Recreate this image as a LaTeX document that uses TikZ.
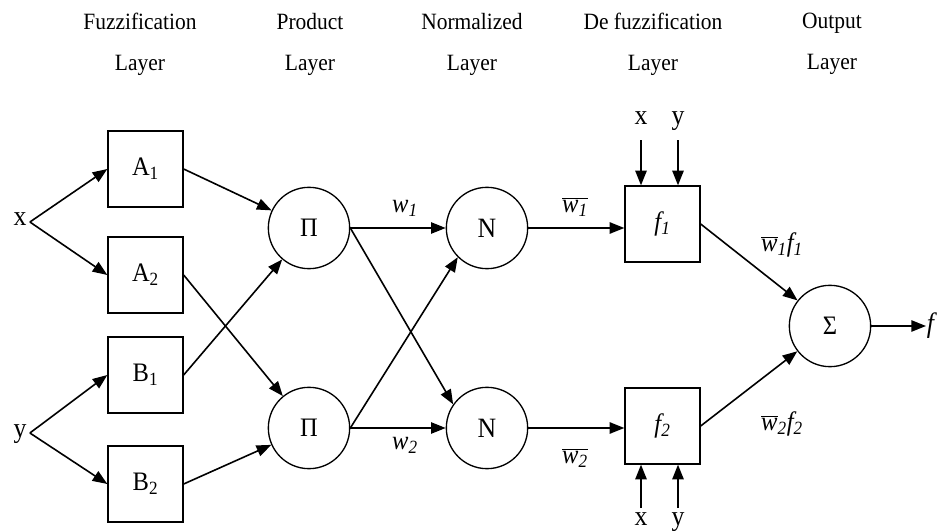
\documentclass[tikz,border=0pt]{standalone}
\usepackage{fontspec}
\setmainfont[FakeStretch=0.92]{Liberation Serif}
\usetikzlibrary{arrows.meta}

\tikzset{every picture/.style={line width=1.2pt}}
\tikzset{
	mfbox/.style={draw, line width=1pt, minimum width=56.25pt, minimum height=57pt, inner sep=0pt, font=\fontsize{20}{24}\selectfont},
	rulenode/.style={draw, line width=1pt, circle, minimum size=61pt, inner sep=0pt, font=\fontsize{21}{24}\selectfont},
	lbl/.style={inner sep=2pt, text height=10pt, text depth=4pt, font=\fontsize{21}{24}\selectfont},
	wlbl/.style={inner sep=0pt, font=\fontsize{20}{24}\selectfont\itshape},
	title/.style={align=center, font=\fontsize{17.5}{30.75}\selectfont},
	arr/.style={-{Triangle[length=11pt,width=8.5pt]}},
}

\begin{document}
\begin{tikzpicture}[x=0.75pt,y=0.75pt,yscale=-1,xscale=1]
		\useasboundingbox (0,0) rectangle (940,531);

		% layer titles
		\draw (140,44) node [title] (t1) {Fuzzification\\Layer};
		\draw (310,44) node [title] (t2) {Product\\Layer};
		\draw (472,44) node [title] (t3) {Normalized\\Layer};
		\draw (653,44) node [title] (t4) {De fuzzification\\Layer};
		\draw (832,44) node [title] (t5) {Output\\Layer};

		% inputs
		\draw (20,222) node [lbl] (inx) {x};
		\draw (20,433) node [lbl] (iny) {y};

		% membership boxes
		\draw (145.5,169) node [mfbox] (A1) {A\textsubscript{1}};
		\draw (145.5,275) node [mfbox] (A2) {A\textsubscript{2}};
		\draw (145.5,375) node [mfbox] (B1) {B\textsubscript{1}};
		\draw (145.5,484) node [mfbox] (B2) {B\textsubscript{2}};

		% product and normalization
		\draw (309,228) node [rulenode, font=\fontsize{20}{24}\selectfont] (P1) {Π};
		\draw (309,428) node [rulenode, font=\fontsize{20}{24}\selectfont] (P2) {Π};
		\draw (487,228) node [rulenode] (N1) {N};
		\draw (487,428) node [rulenode] (N2) {N};

		% consequent boxes
		\draw (662.5,224) node [mfbox] (F1) {\itshape f\textsubscript{1}};
		\draw (662.5,426) node [mfbox] (F2) {\itshape f\textsubscript{2}};
		\draw (641,121) node [lbl] (fx1) {x};
		\draw (678,121) node [lbl] (fy1) {y};
		\draw (641,521) node [lbl] (fx2) {x};
		\draw (678,521) node [lbl] (fy2) {y};

		% sum
		\draw (830,326) node [rulenode, font=\fontsize{20}{24}\selectfont] (S) {Σ};
		\draw (926,326) node [wlbl, anchor=west, font=\fontsize{21}{24}\selectfont\itshape] (fout) {f};

		% edge labels
		\draw (405,208) node [wlbl] (lw1) {w\textsubscript{1}};
		\draw (405,445) node [wlbl] (lw2) {w\textsubscript{2}};
		\draw (575,207) node [wlbl] (lnw1) {$\overline{\mbox{w\textsubscript{1}}}$};
		\draw (575,458) node [wlbl] (lnw2) {$\overline{\mbox{w\textsubscript{2}}}$};
		\draw (782,245) node [wlbl] (lwf1) {$\overline{\mbox{w}}$\textsubscript{1}f\textsubscript{1}};
		\draw (782,424) node [wlbl] (lwf2) {$\overline{\mbox{w}}$\textsubscript{2}f\textsubscript{2}};

		% connections
		\draw [arr] (inx.east) -- (A1.west);
		\draw [arr] (inx.east) -- (A2.west);
		\draw [arr] (iny.east) -- (B1.west);
		\draw [arr] (iny.east) -- (B2.west);

		\draw [arr] (A1.east) -- (P1);
		\draw [arr] (A2.east) -- (P2);
		\draw [arr] (B1.east) -- (P1);
		\draw [arr] (B2.east) -- (P2);

		\draw [arr] (P1.east) -- (N1.west);
		\draw [arr] (P1.east) -- (N2.145);
		\draw [arr] (P2.east) -- (N1.225);
		\draw [arr] (P2.east) -- (N2.west);

		\draw [arr] (N1.east) -- (N1.east -| F1.west);
		\draw [arr] (N2.east) -- (N2.east -| F2.west);

		\draw [arr, shorten <=5pt] (fx1.south) -- (fx1.south |- F1.north);
		\draw [arr, shorten <=5pt] (fy1.south) -- (fy1.south |- F1.north);
		\draw [arr] (fx2.north) -- (fx2.north |- F2.south);
		\draw [arr] (fy2.north) -- (fy2.north |- F2.south);

		\draw [arr] (F1.east) -- (S);
		\draw [arr] (F2.east) -- (S);
		\draw [arr] (S.east) -- (fout.west);

\end{tikzpicture}
\end{document}
